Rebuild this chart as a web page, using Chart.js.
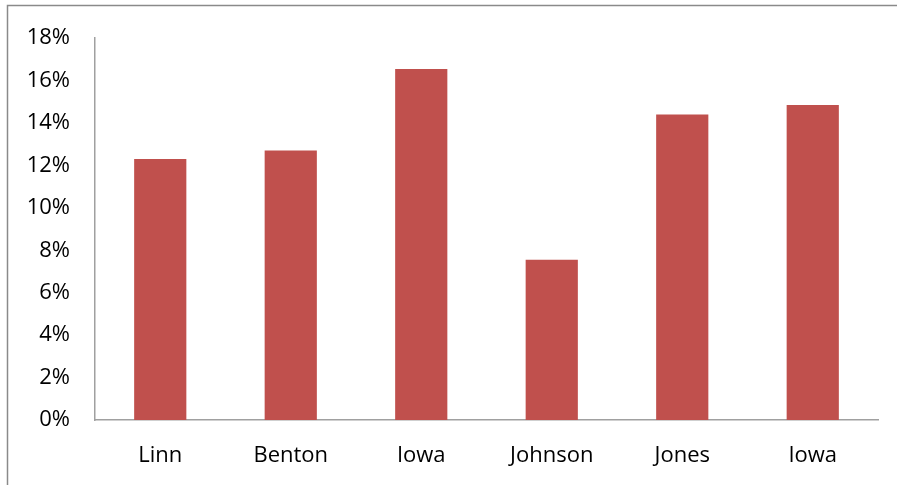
<!DOCTYPE html>
<html><head><meta charset="utf-8">
<script src="https://cdn.jsdelivr.net/npm/chart.js@4/dist/chart.umd.min.js"></script>
<style>html,body{margin:0;padding:0;background:#fff}#wrap{width:897px;height:485px;position:relative}</style>
</head><body><div id="wrap"><canvas id="c" width="897" height="485"></canvas></div>
<script>
const categories = ["Linn", "Benton", "Iowa", "Johnson", "Jones", "Iowa"];
const values = [12.3, 12.7, 16.55, 7.55, 14.4, 14.85];
const yTicks = [0, 2, 4, 6, 8, 10, 12, 14, 16, 18];

const borderPlugin = {
  id: 'frame',
  beforeDraw(chart) {
    const ctx = chart.ctx;
    ctx.save();
    ctx.fillStyle = '#fff';
    ctx.fillRect(0, 0, chart.width, chart.height);
    ctx.strokeStyle = '#8a8a8a';
    ctx.lineWidth = 1.5;
    ctx.strokeRect(7.5, 5.5, 920, 520);
    ctx.restore();
  }
};

new Chart(document.getElementById('c'), {
  type: 'bar',
  data: {
    labels: categories,
    datasets: [{ data: values, backgroundColor: '#C0504D', borderWidth: 0, barPercentage: 0.4, categoryPercentage: 1.0 }]
  },
  options: {
    responsive: false,
    animation: false,
    devicePixelRatio: 1,
    layout: { padding: { left: 0, top: 35, right: 19, bottom: 0 } },
    plugins: { legend: { display: false }, tooltip: { enabled: false } },
    scales: {
      x: {
        grid: { display: false, drawTicks: false },
        border: { display: true, color: '#a0a0a0', width: 1.5 },
        ticks: { color: '#000', font: { family: 'Open Sans', size: 22 }, padding: 23, maxRotation: 0 },
        afterFit(s) { s.height = 65; }
      },
      y: {
        min: 0, max: 18,
        grid: { display: false, drawTicks: false },
        border: { display: true, color: '#a0a0a0', width: 1.5 },
        afterBuildTicks(s) { s.ticks = yTicks.map(v => ({ value: v })); },
        ticks: { color: '#000', font: { family: 'Open Sans', size: 22 }, padding: 25, callback: v => v + '%' },
        afterFit(s) { s.width = 95; }
      }
    }
  },
  plugins: [borderPlugin]
});
</script></body></html>
